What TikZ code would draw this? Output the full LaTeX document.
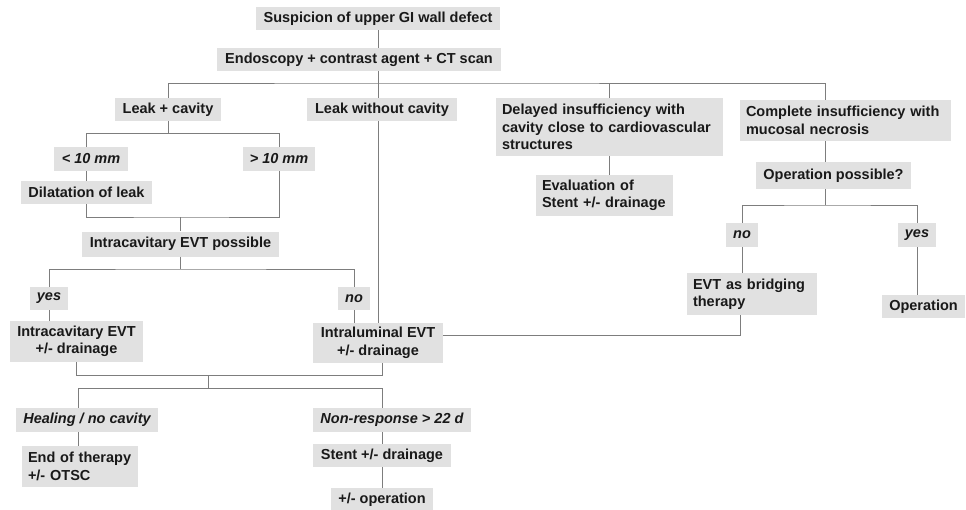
\documentclass[tikz,border=0pt]{standalone}
\usepackage{fontspec}
\setmainfont{Liberation Sans}
\definecolor{boxgray}{RGB}{225,225,225}
\definecolor{linegray}{RGB}{125,125,125}
\newcommand{\boxfont}{\bfseries\fontsize{14.5}{17.5}\selectfont}
\tikzstyle{stage}=[rectangle, fill=boxgray, text=black!90, inner xsep=7pt, inner ysep=2pt, align=center, font=\boxfont]
\tikzstyle{branch}=[stage, font=\boxfont\itshape]
\tikzstyle{note}=[stage, inner xsep=6pt, align=left]

\begin{document}
\begin{tikzpicture}[
        x=1pt, y=-1pt,
        line/.style={draw=linegray, line width=1pt},
      ]
      \useasboundingbox (0,0) rectangle (966,509);
      % boxes
      \node (Suspicion) [stage, minimum width=244pt, minimum height=23pt] at (378,18.5) {Suspicion of upper GI wall defect};
      \node (Endoscopy) [stage, minimum width=284pt, minimum height=23pt] at (359,59.5) {Endoscopy + contrast agent + CT scan};
      \node (LeakCavity) [stage, minimum width=106pt, minimum height=23pt] at (168,109.5) {Leak + cavity};
      \node (LeakNoCavity) [stage, minimum width=150pt, minimum height=23pt] at (382,109.5) {Leak without cavity};
      \node (Delayed) [note, text width=215pt, minimum height=58pt] at (609.5,127)
            {Delayed insufficiency with\\cavity close to cardiovascular\\structures};
      \node (Complete) [note, text width=199pt, minimum height=41pt] at (845.5,120.5)
            {Complete insufficiency with\\mucosal necrosis};
      \node (Small) [branch, minimum width=74pt, minimum height=24pt] at (91,159) {< 10 mm};
      \node (Large) [branch, minimum width=72pt, minimum height=24pt] at (279,159) {> 10 mm};
      \node (Dilatation) [stage, minimum width=131pt, minimum height=23pt] at (86.5,192.5) {Dilatation of leak};
      \node (CavPossible) [stage, minimum width=197pt, minimum height=25pt] at (180.5,244) {Intracavitary EVT possible};
      \node (Evaluation) [note, text width=125pt, minimum height=41pt] at (604.5,195.5)
            {Evaluation of\\Stent +/-~drainage};
      \node (OpPossible) [stage, minimum width=155pt, minimum height=27pt] at (833.5,175.5) {Operation possible?};
      \node (CavYes) [branch, minimum width=38pt, minimum height=23pt] at (49,298.5) {yes};
      \node (CavNo) [branch, minimum width=32pt, minimum height=23pt] at (354,298.5) {no};
      \node (OpNo) [branch, minimum width=32pt, minimum height=24pt] at (742,235) {no};
      \node (OpYes) [branch, minimum width=30pt, minimum height=24pt] at (917,235) {yes};
      \node (IntraCav) [stage, minimum width=133pt, minimum height=41pt] at (76.5,341.5)
            {Intracavitary EVT\\+/- drainage};
      \node (IntraLum) [stage, minimum width=130pt, minimum height=40pt] at (378,343)
            {Intraluminal EVT\\+/- drainage};
      \node (Bridging) [note, text width=118pt, minimum height=42pt] at (752,294)
            {EVT as bridging\\therapy};
      \node (Operation) [stage, minimum width=83pt, minimum height=23pt] at (923.5,306.5) {Operation};
      \node (Healing) [branch, minimum width=142pt, minimum height=24pt] at (87,420) {Healing / no cavity};
      \node (NonResp) [branch, minimum width=158pt, minimum height=24pt] at (392,420) {Non-response > 22 d};
      \node (EndTherapy) [note, text width=104pt, minimum height=41pt] at (80,466.5)
            {End of therapy\\+/- OTSC};
      \node (Stent) [stage, minimum width=138pt, minimum height=23pt] at (382,455.5) {Stent +/- drainage};
      \node (OpPlus) [stage, minimum width=102pt, minimum height=23pt] at (382,499.5) {+/- operation};
      % junctions
      \coordinate (j0) at (378,83);
      \coordinate (jC) at (825,83);
      \coordinate (jS) at (86,133);
      \coordinate (jP) at (180,217);
      \coordinate (jY) at (180,269);
      \coordinate (jB) at (740,335);
      \coordinate (jO) at (825,205);
      \coordinate (jR) at (382,375);
      \coordinate (jH) at (208,375);
      \coordinate (jK) at (208,388);
      \coordinate (jL) at (78,388);
      \coordinate (jN) at (382,388);
      % connectors
      \draw [line] (Suspicion.south) -- (Suspicion.south |- Endoscopy.north);
      \draw [line] (Endoscopy.south -| j0) -- (j0);
      \draw [line] (LeakCavity.north) |- (j0) -- (jC) -- (jC |- Complete.north);
      \draw [line] (j0) -- (j0 |- LeakNoCavity.north);
      \draw [line] (Delayed.north) -- (Delayed.north |- j0);
      \draw [line] (LeakCavity.south) -- (LeakCavity.south |- jS);
      \draw [line] (jS |- Small.north) -- (jS) -| (Large.north);
      \draw [line] (Small.south -| jS) -- (jS |- Dilatation.north);
      \draw [line] (Dilatation.south) |- (jP) -| (Large.south);
      \draw [line] (jP) -- (jP |- CavPossible.north);
      \draw [line] (CavPossible.south -| jY) -- (jY);
      \draw [line] (CavYes.north) |- (jY) -| (CavNo.north);
      \draw [line] (CavYes.south) -- (CavYes.south |- IntraCav.north);
      \draw [line] (CavNo.south) -- (CavNo.south |- IntraLum.north);
      \draw [line] (IntraLum.north) -- (IntraLum.north |- LeakNoCavity.south);
      \draw [line] (IntraLum.east |- jB) -- (jB) -- (jB |- Bridging.south);
      \draw [line] (Delayed.south) -- (Delayed.south |- Evaluation.north);
      \draw [line] (jC |- Complete.south) -- (jC |- OpPossible.north);
      \draw [line] (jC |- OpPossible.south) -- (jO);
      \draw [line] (OpNo.north) |- (jO) -| (OpYes.north);
      \draw [line] (OpNo.south) -- (OpNo.south |- Bridging.north);
      \draw [line] (OpYes.south) -- (OpYes.south |- Operation.north);
      \draw [line] (IntraCav.south) |- (jR) -- (jR |- IntraLum.south);
      \draw [line] (jH) -- (jK);
      \draw [line] (jL |- Healing.north) -- (jL) -- (jN) -- (jN |- NonResp.north);
      \draw [line] (jL |- Healing.south) -- (jL |- EndTherapy.north);
      \draw [line] (jN |- NonResp.south) -- (Stent.north);
      \draw [line] (Stent.south) -- (Stent.south |- OpPlus.north);
    \end{tikzpicture}
\end{document}
